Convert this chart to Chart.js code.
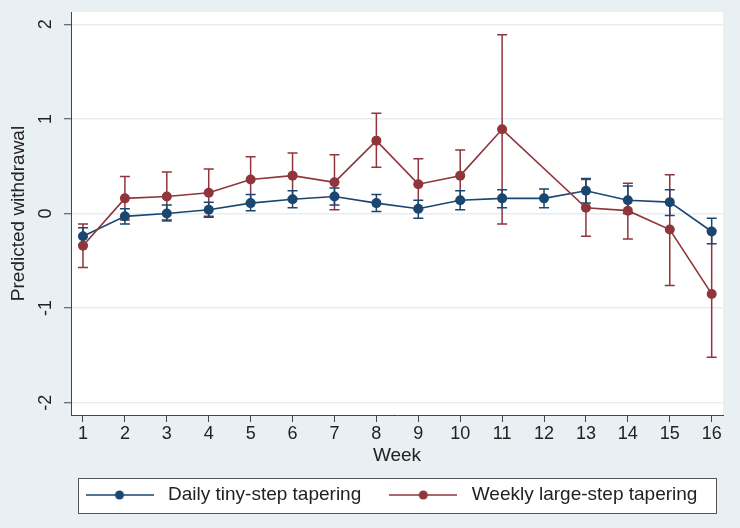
<!DOCTYPE html>
<html>
<head>
<meta charset="utf-8">
<script src="https://cdn.jsdelivr.net/npm/chart.js@4.4.1/dist/chart.umd.min.js"></script>
<style>
html,body{margin:0;padding:0;background:#e9f0f3;}
#wrap{width:740px;height:528px;}
</style>
</head>
<body>
<div id="wrap"><canvas id="c" width="740" height="528"></canvas></div>
<script>
// ---- data ----
const weeks = [1,2,3,4,5,6,7,8,9,10,11,12,13,14,15,16];
const yTicks = [-2,-1,0,1,2];
const seriesNames = ['Daily tiny-step tapering', 'Weekly large-step tapering'];

const dailyMean = [-0.24,-0.03,0.00,0.04,0.11,0.15,0.18,0.11,0.05,0.14,0.16,0.16,0.24,0.14,0.12,-0.19];
const dailyLow  = [-0.33,-0.11,-0.07,-0.04,0.03,0.06,0.09,0.02,-0.05,0.04,0.06,0.06,0.11,0.00,-0.02,-0.32];
const dailyHigh = [-0.15,0.05,0.09,0.12,0.20,0.24,0.27,0.20,0.14,0.24,0.25,0.26,0.37,0.29,0.25,-0.05];

const weeklyMean = [-0.34,0.16,0.18,0.22,0.36,0.40,0.33,0.77,0.31,0.40,0.89,null,0.06,0.03,-0.17,-0.85];
const weeklyLow  = [-0.57,-0.07,-0.08,-0.03,0.12,0.16,0.04,0.49,0.04,0.13,-0.11,null,-0.24,-0.27,-0.76,-1.52];
const weeklyHigh = [-0.11,0.39,0.44,0.47,0.60,0.64,0.62,1.06,0.58,0.67,1.89,null,0.36,0.32,0.41,-0.18];

const BLUE = '#1a476f';
const RED = '#90353b';
const BG = '#e9f0f3';
const FONT = '"Liberation Sans", Arial, Helvetica, sans-serif';

function legendIcon(color) {
  const c = document.createElement('canvas');
  c.width = 68; c.height = 12;
  const g = c.getContext('2d');
  g.strokeStyle = color; g.lineWidth = 1.6;
  g.beginPath(); g.moveTo(0, 6); g.lineTo(68, 6); g.stroke();
  g.fillStyle = color;
  g.beginPath(); g.arc(34, 6, 4.5, 0, Math.PI * 2); g.fill();
  return c;
}
const icons = [legendIcon(BLUE), legendIcon(RED)];

const errorBars = [
  { low: weeklyLow, high: weeklyHigh, color: RED },
  { low: dailyLow, high: dailyHigh, color: BLUE }
];

const bgPlugin = {
  id: 'bg',
  beforeDraw(chart) {
    const ctx = chart.ctx, a = chart.chartArea;
    ctx.save();
    ctx.fillStyle = BG;
    ctx.fillRect(0, 0, chart.width, chart.height);
    ctx.fillStyle = '#ffffff';
    ctx.fillRect(a.left, a.top, a.right - a.left, a.bottom - a.top);
    // legend frame
    const lg = chart.legend;
    lg.left = a.left - 13.5;
    const bx = Math.round(a.left + 7) + 0.5, bw = Math.round(a.right - a.left - 14);
    const by = Math.round(lg.top + 15) + 0.5, bh = 35;
    ctx.fillStyle = '#ffffff';
    ctx.fillRect(bx, by, bw, bh);
    ctx.strokeStyle = '#555555';
    ctx.lineWidth = 1;
    ctx.strokeRect(bx, by, bw, bh);
    ctx.restore();
  }
};

const errPlugin = {
  id: 'errbars',
  beforeDatasetsDraw(chart) {
    const ctx = chart.ctx, xs = chart.scales.x, ys = chart.scales.y;
    ctx.save();
    ctx.lineWidth = 1.5;
    errorBars.forEach(s => {
      ctx.strokeStyle = s.color;
      weeks.forEach((w, i) => {
        if (s.low[i] == null || s.high[i] == null) return;
        const x = xs.getPixelForValue(w);
        const y1 = ys.getPixelForValue(s.low[i]);
        const y2 = ys.getPixelForValue(s.high[i]);
        ctx.beginPath();
        ctx.moveTo(x, y1); ctx.lineTo(x, y2);
        ctx.moveTo(x - 5, y1); ctx.lineTo(x + 5, y1);
        ctx.moveTo(x - 5, y2); ctx.lineTo(x + 5, y2);
        ctx.stroke();
      });
    });
    ctx.restore();
  }
};

new Chart(document.getElementById('c'), {
  type: 'line',
  data: {
    datasets: [
      {
        label: seriesNames[0],
        data: weeks.map((w, i) => ({ x: w, y: dailyMean[i] })),
        borderColor: BLUE, backgroundColor: BLUE,
        borderWidth: 1.6, pointRadius: 5, pointHoverRadius: 5,
        pointBorderWidth: 0, tension: 0, order: 1
      },
      {
        label: seriesNames[1],
        data: weeks.map((w, i) => ({ x: w, y: weeklyMean[i] })),
        borderColor: RED, backgroundColor: RED,
        borderWidth: 1.6, pointRadius: 5, pointHoverRadius: 5,
        pointBorderWidth: 0, tension: 0, spanGaps: true, order: 0
      }
    ]
  },
  options: {
    responsive: false,
    animation: false,
    events: [],
    layout: { padding: { left: 0, top: 12, right: 17, bottom: 13.5 } },
    scales: {
      x: {
        type: 'linear',
        min: 0.714, max: 16.27,
        afterBuildTicks: s => { s.ticks = weeks.map(v => ({ value: v })); },
        afterFit: s => { s.height = 47.5; s.paddingLeft = 0; s.paddingRight = 0; },
        grid: { drawOnChartArea: false, drawTicks: true, tickLength: 7, tickColor: '#444', tickWidth: 1 },
        border: { display: true, color: '#444', width: 1 },
        ticks: { font: { family: FONT, size: 18 }, color: '#222', padding: 1, maxRotation: 0, autoSkip: false },
        title: { display: true, text: 'Week', font: { family: FONT, size: 19 }, color: '#222', padding: { top: 0, bottom: -4.9 } }
      },
      y: {
        type: 'linear',
        min: -2.13, max: 2.13,
        afterBuildTicks: s => { s.ticks = yTicks.map(v => ({ value: v })); },
        afterFit: s => { s.width = 71; s.paddingTop = 0; s.paddingBottom = 0; },
        grid: { color: '#e6eef1', lineWidth: 1.5, drawTicks: true, tickLength: 7, tickColor: '#444', tickWidth: 1 },
        border: { display: true, color: '#444', width: 1 },
        ticks: { font: { family: FONT, size: 18 }, color: '#222', padding: 10, minRotation: 90, maxRotation: 90, crossAlign: 'center' },
        title: { display: true, text: 'Predicted withdrawal', font: { family: FONT, size: 19 }, color: '#222', padding: { top: 7.6, bottom: 0 } }
      }
    },
    plugins: {
      tooltip: { enabled: false },
      legend: {
        position: 'bottom',
        align: 'start',
        fullSize: true,
        labels: {
          usePointStyle: true,
          pointStyleWidth: 78,
          padding: 23,
          color: '#222',
          font: { family: FONT, size: 19 },
          generateLabels: chart => Chart.defaults.plugins.legend.labels.generateLabels(chart)
            .sort((a, b) => a.datasetIndex - b.datasetIndex)
            .map(it => { it.pointStyle = icons[it.datasetIndex]; return it; })
        }
      }
    }
  },
  plugins: [bgPlugin, errPlugin]
});
</script>
</body>
</html>
